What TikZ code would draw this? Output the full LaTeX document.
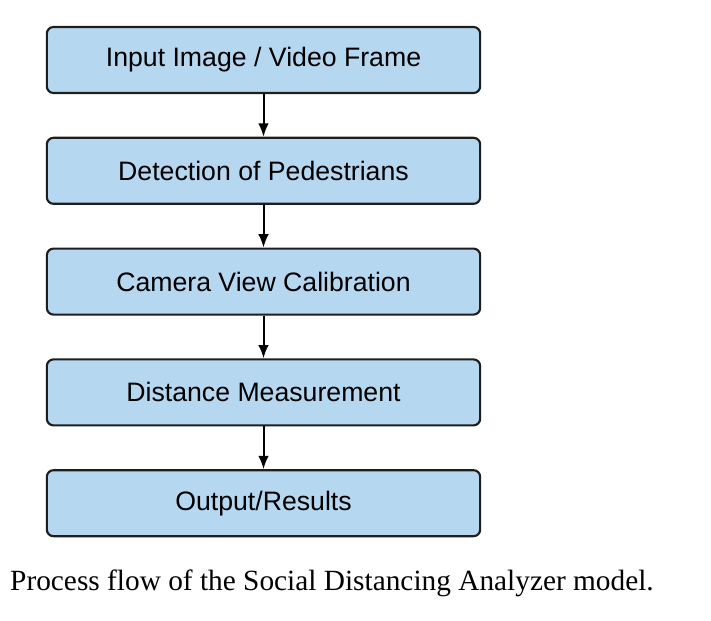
\documentclass[tikz,border=0pt]{standalone}
\usepackage{fontspec}
\setmainfont{Liberation Serif}
\newfontfamily\boxfont{Liberation Sans}
\usetikzlibrary{positioning,arrows.meta}
\definecolor{stepfill}{RGB}{182,215,240}
\definecolor{stepdraw}{RGB}{30,30,30}

\begin{document}
\begin{tikzpicture}[x=0.75pt, y=-0.75pt, node distance=32pt,
                    stage/.style={rectangle, rounded corners=5pt, draw=stepdraw, line width=1.6pt,
                                 fill=stepfill, minimum width=325pt, minimum height=49.5pt,
                                 font=\boxfont\fontsize{20}{23}\selectfont},
                    flow/.style={-{Latex[length=10pt,width=8pt]}, line width=1.5pt}]
  \useasboundingbox (0,0) rectangle (711,621);
  \node[stage] (input) at (263.5,60) {Input Image / Video Frame};
  \node[stage, below=of input] (detect) {Detection of Pedestrians};
  \node[stage, below=of detect] (calib) {Camera View Calibration};
  \node[stage, below=of calib] (dist) {Distance Measurement};
  \node[stage, below=of dist] (result) {Output/Results};
  \draw[flow] (input) -- (detect);
  \draw[flow] (detect) -- (calib);
  \draw[flow] (calib) -- (dist);
  \draw[flow] (dist) -- (result);
  % caption
  \node[font=\fontsize{22}{25}\selectfont] (caption) at (332,583)
    {Process flow of the Social Distancing Analyzer model.};
\end{tikzpicture}
\end{document}
